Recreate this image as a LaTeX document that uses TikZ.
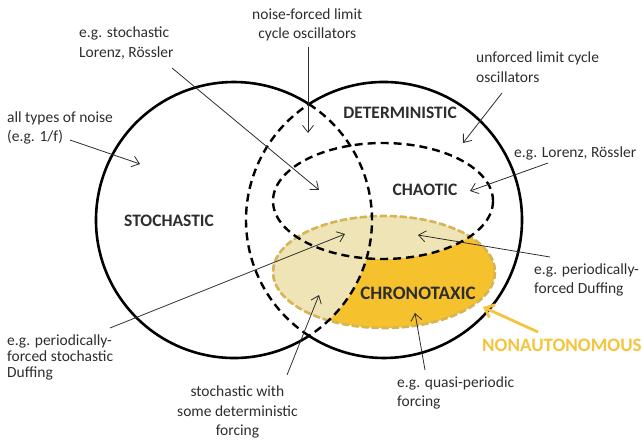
\documentclass[tikz,border=0pt]{standalone}
\usepackage{fontspec}
\setmainfont{Carlito}
\usetikzlibrary{arrows.meta}
\definecolor{lightyel}{RGB}{239,228,181}
\definecolor{darkyel}{RGB}{245,193,45}
\definecolor{edgeyel}{RGB}{236,182,30}
\definecolor{noncol}{RGB}{245,196,62}
\definecolor{txt}{RGB}{45,45,45}

\begin{document}
\begin{tikzpicture}
  [x=1pt,y=-1pt,>={Straight Barb[length=7pt,width=11pt]},
   every node/.style={text=txt,font=\fontsize{15.5}{19.5}\selectfont,inner sep=0pt},
   note/.style={align=left,anchor=west},
   setname/.style={font=\fontsize{17.5}{20}\selectfont\bfseries},
   outer/.style={line width=2.6pt},
   inner/.style={line width=2.4pt,dash pattern=on 8pt off 5pt},
   arr/.style={->,line width=0.8pt,draw=txt}]
  \useasboundingbox (0,0) rectangle (642,443);

  \coordinate (sc) at (234,220);  % stochastic
  \coordinate (dc) at (384,220);  % deterministic
  \coordinate (cc) at (383,201);  % chaotic
  \coordinate (yc) at (384,272);  % nonautonomous

  % nonautonomous patch, chronotaxic part darker
  \fill[darkyel] (yc) ellipse[x radius=111,y radius=56];
  \begin{scope}
    \clip (yc) ellipse[x radius=111,y radius=56];
    \fill[lightyel] (cc) ellipse[x radius=110,y radius=58];
    \fill[lightyel] (sc) circle[radius=138];
  \end{scope}
  \draw[gray!60,line width=2.6pt,dash pattern=on 7pt off 3pt] (yc) ellipse[x radius=111,y radius=56];
  \draw[edgeyel,line width=1.5pt,dash pattern=on 7pt off 3pt] (yc) ellipse[x radius=111,y radius=56];

  % the two sets, inner arcs dashed
  \draw[outer] ([shift={(57.1:138)}]sc) arc[start angle=57.1,end angle=302.9,radius=138];
  \draw[outer] ([shift={(-122.9:138)}]dc) arc[start angle=-122.9,end angle=122.9,radius=138];
  \draw[inner] ([shift={(-57.1:138)}]sc) arc[start angle=-57.1,end angle=57.1,radius=138];
  \draw[inner] ([shift={(122.9:138)}]dc) arc[start angle=122.9,end angle=237.1,radius=138];
  \draw[inner] (cc) ellipse[x radius=110,y radius=58];

  % set names
  \node[setname] (det) at (400,113) {DETERMINISTIC};
  \node[setname] (cha) at (425,190) {CHAOTIC};
  \node[setname] (sto) at (169,221) {STOCHASTIC};
  \node[setname,font=\fontsize{19}{22}\selectfont\bfseries] (chr) at (418,293) {CHRONOTAXIC};
  \node[note,text=noncol,font=\fontsize{19}{22}\selectfont\bfseries] (non) at (482,345) {NONAUTONOMOUS};

  % examples
  \node[note,align=center] (nf) at (252,25) {noise-forced limit\\cycle oscillators};
  \node[note] (sl) at (79,43) {e.g. stochastic\\Lorenz, Rössler};
  \node[note] (noise) at (7,128) {all types of noise\\(e.g. 1/f)};
  \node[note] (unf) at (476,67) {unforced limit cycle\\oscillators};
  \node[note] (lr) at (514,153) {e.g. Lorenz, Rössler};
  \node[note] (pfd) at (534,280) {e.g. periodically-\\forced Duffing};
  \node[note,font=\fontsize{15.5}{16}\selectfont] (pfsd) at (7,357) {e.g. periodically-\\forced stochastic\\Duffing};
  \node[note,align=center] (swd) at (177,412) {stochastic with\\some deterministic\\forcing};
  \node[note] (qp) at (397,393) {e.g. quasi-periodic\\forcing};

  \coordinate (pnf) at (308,133);
  \coordinate (psl) at (319,190);
  \coordinate (pnoise) at (140,164);
  \coordinate (punf) at (463,143);
  \coordinate (plr) at (470,191);
  \coordinate (ppfd) at (418,235);
  \coordinate (ppfsd) at (345,234);
  \coordinate (pswd) at (319,295);
  \coordinate (pqp) at (415,313);
  \coordinate (pnon) at (483,307);

  \foreach \n/\dx/\dy/\p in {nf/56/22/pnf,sl/93/25/psl,noise/63/12/pnoise,unf/26/26/punf,
      lr/34/10/plr,pfd/16/-23/ppfd,pfsd/103/-29/ppfsd,swd/110/-37/pswd,qp/28/-23/pqp}
    \draw[arr] ([shift={(\dx,\dy)}]\n.west) -- (\p);
  \draw[arr,draw=noncol,line width=2.8pt,>={Straight Barb[length=8pt,width=14pt]}]
    ([shift={(56,-13)}]non.west) -- (pnon);
\end{tikzpicture}
\end{document}
